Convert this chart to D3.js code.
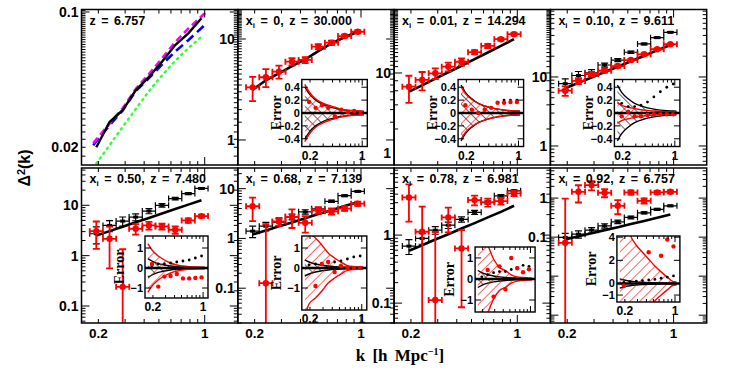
<!DOCTYPE html>
<html><head><meta charset="utf-8">
<script src="https://cdn.jsdelivr.net/npm/d3@7"></script>
<style>
body{margin:0;background:#fff}
svg{display:block;font-family:"Liberation Sans",Arial,sans-serif}
</style></head>
<body><svg id="chart" width="747" height="374"></svg>
<script>
// k bin centres, shared by every panel
const kBins = [0.194, 0.237, 0.289, 0.352, 0.430, 0.524, 0.640, 0.780, 0.952];

// panel 1: model curves
const p1K = [0.185, 0.237, 0.289, 0.352, 0.430, 0.524, 0.640, 0.780, 1.03];
const p1Black = [0.0200, 0.0270, 0.0311, 0.0394, 0.0462, 0.0553, 0.0675, 0.0776, 0.0928];
const p1Magenta = [0.0210, 0.0265, 0.0318, 0.0400, 0.0478, 0.0575, 0.0700, 0.0820, 0.1004];
const p1Blue = [0.0205, 0.0260, 0.0310, 0.0390, 0.0455, 0.0535, 0.0625, 0.0715, 0.0874];
const p1Green = [0.0165, 0.0205, 0.0255, 0.0315, 0.0390, 0.0470, 0.0560, 0.0650, 0.0745];

// panels 2-8
const titles = [["z = 6.757"], ["0", "30.000"], ["0.01", "14.294"], ["0.10", "9.611"],
  ["0.50", "7.480"], ["0.68", "7.139"], ["0.78", "6.981"], ["0.92", "6.757"]];
const yDomains = [[0.0162, 0.103], [0.565, 19.6], [0.71, 62], [0.53, 95],
  [0.046, 55], [0.02, 26], [0.051, 9.7], [0.00063, 5.9]];
const yLabels = [[0.1, 0.02], [10, 1], [10, 1], [10, 1], [10, 1, 0.1], [10, 1, 0.1], [1, 0.1], [1, 0.1]];

const theory = [null,
  [3.13, 3.9, 4.57, 5.4, 6.3, 7.6, 9.06, 10.4, 11.8],
  [5.84, 7.0, 8.5, 10.2, 12.3, 14.9, 18.0, 21.8, 26.4],
  [6.86, 8.2, 9.8, 11.8, 14.1, 16.9, 20.3, 24.3, 29.1],
  [2.51, 3.07, 3.76, 4.60, 5.62, 6.88, 8.41, 10.3, 12.6],
  [1.2, 1.45, 1.75, 2.1, 2.55, 3.1, 3.7, 4.5, 5.32],
  [0.588, 0.71, 0.86, 1.03, 1.25, 1.5, 1.82, 2.2, 2.7],
  [0.0873, 0.105, 0.125, 0.151, 0.18, 0.216, 0.26, 0.315, 0.382]];

const redVals = [null,
  [3.32, 4.18, 4.75, 5.96, 6.2, 8.39, 9.19, 10.7, 11.8],
  [6.74, 8.18, 9.91, 12.0, 13.8, 18.2, 21.8, 26.4, 30.5],
  [6.33, 8.75, 11.0, 12.3, 14.4, 17.6, 21.3, 25.2, 29.8],
  [3.06, 2.16, 0.24, 3.42, 3.98, 3.8, 3.27, 5.0, 6.1],
  [4.43, 0.126, 2.2, 2.72, 2.06, 3.68, 3.52, 3.98, 5.0],
  [3.58, 1.12, 0.111, 1.82, 0.637, 3.27, 3.03, 3.16, 4.1],
  [0.0714, 1.45, 2.15, 1.37, 0.635, 1.4, 0.853, 1.4, 1.45]];
const redErr = [null,
  [0.9, 0.84, 0.7, 0.49, 0.43, 0.49, 0.42, 0.37, 0.41],
  [2.5, 2.1, 1.5, 1.5, 1.4, 1.1, 1.3, 1.1, 1.3],
  [1.0, 0.9, 0.8, 0.7, 0.7, 0.7, 0.7, 0.7, 0.7],
  [1.7, 1.6, 1.1, 0.8, 0.7, 0.5, 0.55, 0.5, 0.4],
  [2.2, 1.8, 0.4, 1.1, 0.75, 0.55, 0.5, 0.4, 0.5],
  [2.0, 1.5, 1.0, 0.72, 0.55, 0.54, 0.4, 0.35, 0.35],
  [0.9, 0.68, 0.58, 0.32, 0.25, 0.17, 0.13, 0.13, 0.13]];
const blackVals = [null, null, null,
  [8.0, 10.5, 11.5, 14.9, 17.6, 22.8, 30.1, 37.1, 44.4],
  [2.72, 3.98, 4.85, 5.83, 7.69, 10.0, 13.6, 17.1, 21.6],
  [1.4, 1.76, 2.12, 2.72, 3.42, 3.93, 5.57, 7.24, 8.83],
  [0.689, 0.894, 1.18, 1.4, 1.7, 2.16, 3.03, 3.78, 4.48],
  [0.098, 0.119, 0.151, 0.195, 0.247, 0.32, 0.42, 0.513, 0.635]];
const blackErr = [null, null, null,
  [1.4, 1.5, 1.3, 1.0, 0.9, 0.9, 0.9, 0.9, 0.9],
  [1.0, 1.0, 1.0, 0.9, 0.9, 0.8, 0.8, 0.8, 0.8],
  [0.36, 0.35, 0.35, 0.35, 0.35, 0.3, 0.3, 0.3, 0.3],
  [0.17, 0.16, 0.15, 0.15, 0.15, 0.15, 0.15, 0.15, 0.15],
  [0.026, 0.025, 0.025, 0.025, 0.025, 0.025, 0.025, 0.03, 0.03]];

// insets: fractional error relative to the model
const insetDomains = [null, [-0.52, 0.52], [-0.52, 0.52], [-0.52, 0.52],
  [-1.5, 1.6], [-2.1, 1.6], [-1.57, 1.52], [-1.6, 4.1]];
const insetTicks = [null, [-0.4, -0.2, 0, 0.2, 0.4], [-0.4, -0.2, 0, 0.2, 0.4], [-0.4, -0.2, 0, 0.2, 0.4],
  [-1, 0, 1], [-1, 0, 1], [-1, 0, 1], [-1, 0, 2, 4]];
const envRed = [null,
  [0.33, 0.22, 0.16, 0.12, 0.09, 0.06, 0.045, 0.035, 0.03],
  [0.30, 0.21, 0.15, 0.11, 0.08, 0.06, 0.045, 0.035, 0.03],
  [0.12, 0.09, 0.07, 0.05, 0.04, 0.03, 0.025, 0.02, 0.02],
  [0.9, 0.6, 0.4, 0.25, 0.15, 0.1, 0.07, 0.05, 0.04],
  [1.8, 1.5, 1.15, 0.75, 0.5, 0.3, 0.12, 0.07, 0.05],
  [2.0, 1.6, 0.95, 0.55, 0.4, 0.2, 0.1, 0.07, 0.05],
  [6.0, 4.2, 3.3, 2.7, 2.1, 1.5, 1.0, 0.55, 0.15]];
const envBlack = [null,
  [0.30, 0.2, 0.14, 0.10, 0.075, 0.055, 0.04, 0.03, 0.025],
  [0.32, 0.22, 0.15, 0.11, 0.08, 0.06, 0.045, 0.035, 0.03],
  [0.32, 0.22, 0.15, 0.11, 0.08, 0.06, 0.045, 0.035, 0.03],
  [0.35, 0.22, 0.15, 0.1, 0.07, 0.05, 0.04, 0.03, 0.03],
  [0.3, 0.2, 0.14, 0.1, 0.07, 0.05, 0.04, 0.03, 0.03],
  [0.3, 0.2, 0.14, 0.1, 0.07, 0.05, 0.04, 0.03, 0.03],
  [0.3, 0.2, 0.14, 0.1, 0.07, 0.05, 0.04, 0.03, 0.03]];
const insetRed = [null,
  [0.17, 0.08, 0.12, 0.08, -0.05, 0.05, 0.01, 0.03, 0.0],
  [0.12, 0.05, 0.0, 0.05, 0.08, 0.16, 0.16, 0.17, 0.17],
  [-0.05, 0.02, -0.05, -0.05, -0.03, -0.02, -0.02, -0.02, -0.02],
  [0.2, -0.93, -0.43, -0.4, -0.3, -0.52, -0.52, -0.5, -0.47],
  [2.5, -0.9, 0.2, 0.3, -0.2, 0.1, 0.0, 0.0, 0.0],
  [5.0, 0.43, -0.84, 0.6, -0.49, 1.0, 0.51, 0.32, 0.46],
  [-0.2, 12.0, 16.0, 8.0, 2.7, 5.5, 2.4, 3.8, 3.2]];
const insetBlack = [null, null,
  [null, null, null, null, null, null, 0.2, 0.2, 0.2],
  [0.15, 0.1, 0.1, 0.12, 0.17, 0.25, 0.33, 0.4, 0.45],
  [0.1, 0.2, 0.2, 0.25, 0.3, 0.35, 0.4, 0.5, 0.6],
  [0.15, 0.2, 0.2, 0.25, 0.3, 0.35, 0.45, 0.55, 0.6],
  [0.1, 0.2, 0.3, 0.35, 0.35, 0.45, 0.55, 0.65, 0.6],
  [0.1, 0.15, 0.2, 0.25, 0.3, 0.35, 0.45, 0.55, 0.65]];

const xTickValues = [0.2, 0.3, 0.4, 0.5, 0.6, 0.7, 0.8, 0.9, 1];

// layout
const svg = d3.select("#chart");
const left = 81.5, colW = 156.3;
const rows = [[9.5, 165], [168, 323]];
const insetBoxes = [null, [64, 70, 129.5, 137], [64, 70, 129.5, 137], [64, 70, 129.5, 137],
  [63.5, 68, 126.5, 130], [64, 68, 129, 142], [81, 79, 141, 144], [66.5, 68, 129.5, 134]];
const RED = "#ff0000";
const binHalf = 1.105;

const defs = svg.append("defs");
function hatch(id, color, angle) {
  const p = defs.append("pattern").attr("id", id).attr("patternUnits", "userSpaceOnUse")
    .attr("width", 7).attr("height", 7).attr("patternTransform", `rotate(${angle})`);
  p.append("line").attr("x1", 0).attr("y1", 0).attr("x2", 0).attr("y2", 7)
    .attr("stroke", color).attr("stroke-width", 1.2);
}
hatch("hatchRed", RED, 45);
hatch("hatchBlack", "#000", -45);

for (let i = 0; i < 8; i++) {
  const col = i % 4, row = Math.floor(i / 4);
  const x0 = left + col * colW, x1 = x0 + colW;
  const [y0, y1] = rows[row];
  const x = d3.scaleLog().domain([0.155, 1.65]).range([x0, x1]);
  const y = d3.scaleLog().domain(yDomains[i]).range([y1, y0]);
  const g = svg.append("g");
  defs.append("clipPath").attr("id", "clip" + i).append("rect")
    .attr("x", x0).attr("y", y0).attr("width", colW).attr("height", y1 - y0);
  const plot = g.append("g").attr("clip-path", `url(#clip${i})`);

  if (i === 0) {
    const lineOf = vals => d3.line().x((d, j) => x(p1K[j])).y(d => y(d))(vals);
    plot.append("path").attr("d", d3.line().x((d, j) => x(kBins[j])).y(d => y(d))(p1Green))
      .attr("fill", "none").attr("stroke", "#33ff33").attr("stroke-width", 2.4)
      .attr("stroke-dasharray", "1.5,4.5").attr("stroke-linecap", "round");
    plot.append("path").attr("d", lineOf(p1Blue)).attr("fill", "none")
      .attr("stroke", "#0000ff").attr("stroke-width", 2.6).attr("stroke-dasharray", "9,5");
    plot.append("path").attr("d", lineOf(p1Magenta)).attr("fill", "none")
      .attr("stroke", "#ff00ff").attr("stroke-width", 2.6).attr("stroke-dasharray", "7,4");
    plot.append("path").attr("d", d3.line().x((d, j) => x(kBins[j])).y(d => y(d))(p1Black))
      .attr("fill", "none").attr("stroke", "#000").attr("stroke-width", 2.4);
  } else {
    plot.append("path").attr("d", d3.line().x((d, j) => x(kBins[j])).y(d => y(d))(theory[i]))
      .attr("fill", "none").attr("stroke", "#000").attr("stroke-width", 2.6);
    if (blackVals[i]) drawPoints(plot, x, y, blackVals[i], blackErr[i], "#000", y1, false);
    drawPoints(plot, x, y, redVals[i], redErr[i], RED, y1, true);
  }

  // frame + ticks
  g.append("rect").attr("x", x0).attr("y", y0).attr("width", colW).attr("height", y1 - y0)
    .attr("fill", "none").attr("stroke", "#000").attr("stroke-width", 1.5);
  const tk = g.append("g").attr("stroke", "#000").attr("stroke-width", 1);
  xTickValues.forEach(v => {
    const len = v === 1 ? 8 : 4;
    tk.append("line").attr("x1", x(v)).attr("x2", x(v)).attr("y1", y1).attr("y2", y1 - len);
    tk.append("line").attr("x1", x(v)).attr("x2", x(v)).attr("y1", y0).attr("y2", y0 + len);
  });
  y.ticks(40).filter(v => v >= yDomains[i][0] && v <= yDomains[i][1]).forEach(v => {
    const major = Math.abs(Math.log10(v) - Math.round(Math.log10(v))) < 1e-6;
    const len = major ? 8 : 4;
    tk.append("line").attr("x1", x0).attr("x2", x0 + len).attr("y1", y(v)).attr("y2", y(v));
    tk.append("line").attr("x1", x1).attr("x2", x1 - len).attr("y1", y(v)).attr("y2", y(v));
  });
  yLabels[i].forEach(v => {
    g.append("text").attr("x", x0 - 3).attr("y", y(v)).attr("dy", "0.36em")
      .attr("text-anchor", "end").attr("font-size", 14).attr("font-weight", "bold").text(v);
  });
  if (row === 1) {
    [0.2, 1].forEach(v => g.append("text").attr("x", x(v)).attr("y", y1 + 15)
      .attr("text-anchor", "middle").attr("font-size", 13.5).attr("font-weight", "bold").text(v));
  }

  // title
  const t = g.append("text").attr("x", x0 + 8).attr("y", y0 + 15).attr("font-size", 12.5)
    .attr("font-weight", "bold").attr("word-spacing", 2);
  if (i === 0) t.text(titles[0][0]);
  else {
    t.append("tspan").text("x");
    t.append("tspan").attr("font-size", 8).attr("dy", 3).text("i");
    t.append("tspan").attr("dy", -3).text(` = ${titles[i][0]}, z = ${titles[i][1]}`);
  }

  if (i > 0) drawInset(g, i, x0, y0);
}

function drawPoints(plot, x, y, vals, errs, color, yBottom, round) {
  vals.forEach((v, j) => {
    const k = kBins[j];
    const cx = x(k), cy = y(v);
    const lo = v - errs[j] > 0 ? y(v - errs[j]) : yBottom + 5;
    const hi = y(v + errs[j]);
    const gp = plot.append("g").attr("stroke", color).attr("stroke-width", round ? 1.8 : 1.2);
    gp.append("line").attr("x1", x(k / binHalf)).attr("x2", x(k * binHalf)).attr("y1", cy).attr("y2", cy);
    gp.append("line").attr("x1", x(k / binHalf)).attr("x2", x(k / binHalf)).attr("y1", cy - 3).attr("y2", cy + 3);
    gp.append("line").attr("x1", x(k * binHalf)).attr("x2", x(k * binHalf)).attr("y1", cy - 3).attr("y2", cy + 3);
    gp.append("line").attr("x1", cx).attr("x2", cx).attr("y1", lo).attr("y2", hi);
    gp.append("line").attr("x1", cx - 3.5).attr("x2", cx + 3.5).attr("y1", hi).attr("y2", hi);
    gp.append("line").attr("x1", cx - 3.5).attr("x2", cx + 3.5).attr("y1", lo).attr("y2", lo);
    if (round) plot.append("circle").attr("cx", cx).attr("cy", cy).attr("r", 3.2).attr("fill", color);
    else plot.append("rect").attr("x", cx - 2.5).attr("y", cy - 1.5).attr("width", 5).attr("height", 3).attr("fill", color);
  });
}

function drawInset(g, i, px0, py0) {
  const [a, b, c, d] = insetBoxes[i];
  const ix0 = px0 + a, ix1 = px0 + c, iy0 = py0 + b, iy1 = py0 + d;
  const x = d3.scaleLog().domain([0.155, 1.17]).range([ix0, ix1]);
  const y = d3.scaleLinear().domain(insetDomains[i]).range([iy1, iy0]);
  const ig = g.append("g");
  ig.append("rect").attr("x", ix0).attr("y", iy0).attr("width", ix1 - ix0).attr("height", iy1 - iy0).attr("fill", "#fff");
  defs.append("clipPath").attr("id", "iclip" + i).append("rect")
    .attr("x", ix0).attr("y", iy0).attr("width", ix1 - ix0).attr("height", iy1 - iy0);
  const inner = ig.append("g").attr("clip-path", `url(#iclip${i})`);
  const kk = [0.17, ...kBins, 1.05];
  const ext = arr => [arr[0] * 1.35, ...arr, arr[arr.length - 1] * 0.9];
  const area = d3.area().curve(d3.curveMonotoneX).x((dd, j) => x(kk[j]));
  const curve = d3.line().curve(d3.curveMonotoneX).x((dd, j) => x(kk[j]));
  [[envBlack[i], "hatchBlack", "#000"], [envRed[i], "hatchRed", RED]].forEach(([env, pat, col]) => {
    const e = ext(env);
    inner.append("path").attr("d", area.y0(v => y(-v)).y1(v => y(v))(e)).attr("fill", `url(#${pat})`);
    inner.append("path").attr("d", curve.y(v => y(v))(e)).attr("fill", "none").attr("stroke", col).attr("stroke-width", 1.4);
    inner.append("path").attr("d", curve.y(v => y(-v))(e)).attr("fill", "none").attr("stroke", col).attr("stroke-width", 1.4);
  });
  inner.append("line").attr("x1", ix0).attr("x2", ix1).attr("y1", y(0)).attr("y2", y(0))
    .attr("stroke", "#000").attr("stroke-width", 2.6);
  if (insetBlack[i]) insetBlack[i].forEach((v, j) => {
    if (v !== null) inner.append("circle").attr("cx", x(kBins[j])).attr("cy", y(v)).attr("r", 1.4).attr("fill", "#000");
  });
  insetRed[i].forEach((v, j) => inner.append("circle").attr("cx", x(kBins[j])).attr("cy", y(v)).attr("r", 2.2).attr("fill", RED));
  ig.append("rect").attr("x", ix0).attr("y", iy0).attr("width", ix1 - ix0).attr("height", iy1 - iy0)
    .attr("fill", "none").attr("stroke", "#000").attr("stroke-width", 1.4);
  const tk = ig.append("g").attr("stroke", "#000").attr("stroke-width", 1);
  xTickValues.forEach(v => {
    const len = v === 1 ? 6 : 3;
    tk.append("line").attr("x1", x(v)).attr("x2", x(v)).attr("y1", iy1).attr("y2", iy1 - len);
    tk.append("line").attr("x1", x(v)).attr("x2", x(v)).attr("y1", iy0).attr("y2", iy0 + len);
  });
  insetTicks[i].forEach(v => {
    tk.append("line").attr("x1", ix0).attr("x2", ix0 + 6).attr("y1", y(v)).attr("y2", y(v));
    tk.append("line").attr("x1", ix1).attr("x2", ix1 - 6).attr("y1", y(v)).attr("y2", y(v));
    ig.append("text").attr("x", ix0 - 2).attr("y", y(v)).attr("dy", "0.36em").attr("text-anchor", "end")
      .attr("font-size", 11).attr("font-weight", "bold").text(v < 0 ? "\u2212" + Math.abs(v) : v);
  });
  if (i !== 6) [0.2, 1].forEach(v => ig.append("text").attr("x", x(v)).attr("y", iy1 + 13)
    .attr("text-anchor", "middle").attr("font-size", 12).attr("font-weight", "bold").text(v));
  ig.append("text").attr("transform", `translate(${ix0 - 21},${(iy0 + iy1) / 2}) rotate(-90)`)
    .attr("text-anchor", "middle").attr("font-family", "Liberation Serif, serif").attr("font-size", 14)
    .attr("font-weight", "bold").text("Error");
}

svg.append("text").attr("transform", "translate(30,168) rotate(-90)").attr("text-anchor", "middle")
  .attr("font-size", 16).attr("font-weight", "bold").html("&#916;<tspan dy='-5' font-size='11'>2</tspan><tspan dy='5'>(k)</tspan>");
svg.append("text").attr("x", 400).attr("y", 361).attr("text-anchor", "middle")
  .attr("font-family", "Liberation Serif, serif").attr("font-size", 17).attr("font-weight", "bold").attr("word-spacing", 3)
  .html("k [h Mpc<tspan dy='-6' font-size='10'>\u22121</tspan><tspan dy='6'>]</tspan>");
</script>
</body></html>
